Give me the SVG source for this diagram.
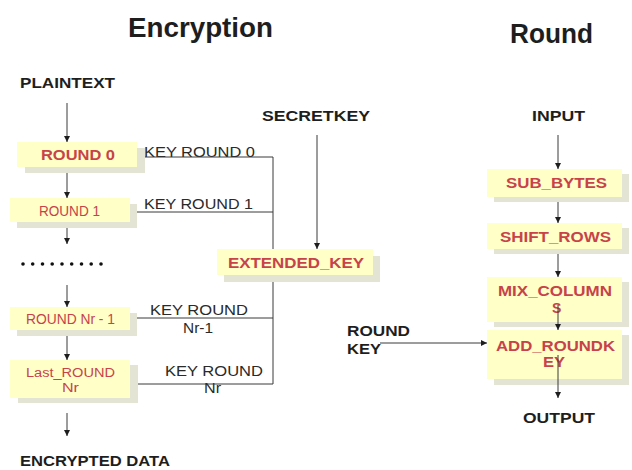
<svg xmlns="http://www.w3.org/2000/svg" width="632" height="470" viewBox="0 0 632 470">
  <style>
    text { font-family: "Liberation Sans", Arial, sans-serif; fill: #1e1e1e; }
    .title { font-size: 27px; font-weight: bold; }
    .lbl { font-size: 15px; font-weight: bold; }
    .key { font-size: 15px; fill: #2a2a2a; }
    .bt { font-size: 14px; font-weight: bold; fill: #c8424a; }
    .btl { font-size: 14px; fill: #c8424a; }
    .bts { font-size: 12.5px; fill: #c8424a; }
    .box { fill: #ffffc8; }
    .shadow { fill: #e4e4d4; }
    .wire { stroke: #3a3a3a; stroke-width: 1; fill: none; }
    .arrow { marker-end: url(#head); }
  </style>
  <defs>
    <marker id="head" markerUnits="userSpaceOnUse" markerWidth="8" markerHeight="8" refX="6" refY="3.5" orient="auto">
      <path d="M0,0.5 L6,3.5 L0,6.5 Z" fill="#1e1e1e"/>
    </marker>
  </defs>

  <rect width="632" height="470" fill="#ffffff"/>

  <!-- headings and free labels -->
  <text class="title" x="128" y="37" textLength="145" lengthAdjust="spacingAndGlyphs">Encryption</text>
  <text class="title" x="510" y="43" textLength="83" lengthAdjust="spacingAndGlyphs">Round</text>
  <text class="lbl" x="20" y="88" textLength="95" lengthAdjust="spacingAndGlyphs">PLAINTEXT</text>
  <text class="lbl" x="262" y="121" textLength="108" lengthAdjust="spacingAndGlyphs">SECRETKEY</text>
  <text class="lbl" x="532" y="121" textLength="53" lengthAdjust="spacingAndGlyphs">INPUT</text>
  <text class="lbl" x="523" y="423" textLength="72" lengthAdjust="spacingAndGlyphs">OUTPUT</text>
  <text class="lbl" x="20" y="466" textLength="150" lengthAdjust="spacingAndGlyphs">ENCRYPTED DATA</text>
  <g id="roundkey-label">
    <text class="lbl" x="347" y="336" textLength="63" lengthAdjust="spacingAndGlyphs">ROUND</text>
    <text class="lbl" x="347" y="354" textLength="34" lengthAdjust="spacingAndGlyphs">KEY</text>
  </g>
  <g id="dots" fill="#111111">
    <circle cx="23" cy="264" r="1.8"/>
    <circle cx="32.7" cy="264" r="1.8"/>
    <circle cx="42.5" cy="264" r="1.8"/>
    <circle cx="52.2" cy="264" r="1.8"/>
    <circle cx="62" cy="264" r="1.8"/>
    <circle cx="71.7" cy="264" r="1.8"/>
    <circle cx="81.5" cy="264" r="1.8"/>
    <circle cx="91.2" cy="264" r="1.8"/>
    <circle cx="101" cy="264" r="1.8"/>
  </g>

  <!-- key schedule labels -->
  <g id="key-labels">
    <text class="key" x="144" y="157" textLength="111" lengthAdjust="spacingAndGlyphs">KEY ROUND 0</text>
    <text class="key" x="144" y="209" textLength="109" lengthAdjust="spacingAndGlyphs">KEY ROUND 1</text>
    <text class="key" x="150" y="315" textLength="98" lengthAdjust="spacingAndGlyphs">KEY ROUND</text>
    <text class="key" x="183" y="333" textLength="30" lengthAdjust="spacingAndGlyphs">Nr-1</text>
    <text class="key" x="165" y="376" textLength="98" lengthAdjust="spacingAndGlyphs">KEY ROUND</text>
    <text class="key" x="204" y="393" textLength="17" lengthAdjust="spacingAndGlyphs">Nr</text>
  </g>

  <!-- connectors (under the boxes) -->
  <g id="connectors">
    <line class="wire arrow" x1="67" y1="103" x2="67" y2="142"/>
    <line class="wire arrow" x1="67" y1="173" x2="67" y2="198"/>
    <line class="wire arrow" x1="67" y1="227" x2="67" y2="244"/>
    <line class="wire arrow" x1="67" y1="285" x2="67" y2="307"/>
    <line class="wire arrow" x1="67" y1="335" x2="67" y2="360"/>
    <line class="wire arrow" x1="67" y1="413" x2="67" y2="436"/>
    <polyline class="wire" points="143,157 273,157 273,384"/>
    <line class="wire arrow" x1="273" y1="212" x2="131" y2="212"/>
    <line class="wire arrow" x1="273" y1="318" x2="131" y2="318"/>
    <line class="wire arrow" x1="273" y1="384" x2="131" y2="384"/>
    <line class="wire arrow" x1="317" y1="135" x2="317" y2="249"/>
    <line class="wire arrow" x1="558" y1="135" x2="558" y2="169"/>
    <line class="wire arrow" x1="558" y1="201" x2="558" y2="223"/>
    <line class="wire arrow" x1="558" y1="253" x2="558" y2="277"/>
    <line class="wire arrow" x1="380" y1="343" x2="487" y2="343"/>
  </g>

  <!-- encryption column -->
  <g id="round0">
    <rect class="shadow" x="25" y="148" width="120" height="25"/>
    <rect class="box" x="17" y="142" width="120" height="25"/>
    <text class="bt" x="41" y="160" textLength="74" lengthAdjust="spacingAndGlyphs">ROUND 0</text>
  </g>
  <g id="round1">
    <rect class="shadow" x="17" y="204" width="120" height="24"/>
    <rect class="box" x="10" y="198" width="120" height="24"/>
    <text class="btl" x="39" y="216" textLength="61" lengthAdjust="spacingAndGlyphs">ROUND 1</text>
  </g>
  <g id="round-nr-1">
    <rect class="shadow" x="17" y="313" width="120" height="23"/>
    <rect class="box" x="10" y="307" width="120" height="23"/>
    <text class="btl" x="26" y="324" textLength="89" lengthAdjust="spacingAndGlyphs">ROUND Nr - 1</text>
  </g>
  <g id="last-round">
    <rect class="shadow" x="18" y="365" width="120" height="38"/>
    <rect class="box" x="10" y="360" width="120" height="38"/>
    <text class="bts" x="26" y="377" textLength="89" lengthAdjust="spacingAndGlyphs">Last_ROUND</text>
    <text class="bts" x="62" y="392" textLength="17" lengthAdjust="spacingAndGlyphs">Nr</text>
  </g>
  <g id="extended-key">
    <rect class="shadow" x="224" y="256" width="156" height="26"/>
    <rect class="box" x="217" y="249" width="156" height="26"/>
    <text class="bt" x="228" y="268" textLength="136" lengthAdjust="spacingAndGlyphs">EXTENDED_KEY</text>
  </g>

  <!-- round column -->
  <g id="sub-bytes">
    <rect class="shadow" x="494" y="174" width="135" height="28"/>
    <rect class="box" x="487" y="169" width="135" height="28"/>
    <text class="bt" x="506" y="188" textLength="101" lengthAdjust="spacingAndGlyphs">SUB_BYTES</text>
  </g>
  <g id="shift-rows">
    <rect class="shadow" x="494" y="228" width="135" height="26"/>
    <rect class="box" x="487" y="223" width="135" height="26"/>
    <text class="bt" x="500" y="242" textLength="111" lengthAdjust="spacingAndGlyphs">SHIFT_ROWS</text>
  </g>
  <g id="mix-columns">
    <rect class="shadow" x="494" y="282" width="135" height="45"/>
    <rect class="box" x="487" y="277" width="135" height="45"/>
    <text class="bt" x="498" y="296" textLength="114" lengthAdjust="spacingAndGlyphs">MIX_COLUMN</text>
    <text class="bt" x="552" y="313">S</text>
  </g>
  <g id="add-roundkey">
    <rect class="shadow" x="494" y="335" width="135" height="50"/>
    <rect class="box" x="487" y="330" width="135" height="49"/>
    <text class="bt" x="496" y="351" textLength="119" lengthAdjust="spacingAndGlyphs">ADD_ROUNDK</text>
    <text class="bt" x="543" y="367" textLength="22" lengthAdjust="spacingAndGlyphs">EY</text>
  </g>

  <!-- links that run across the round boxes -->
  <g id="connectors-over">
    <line class="wire arrow" x1="558" y1="305" x2="558" y2="330"/>
    <line class="wire arrow" x1="558" y1="355" x2="558" y2="398"/>
  </g>
</svg>
